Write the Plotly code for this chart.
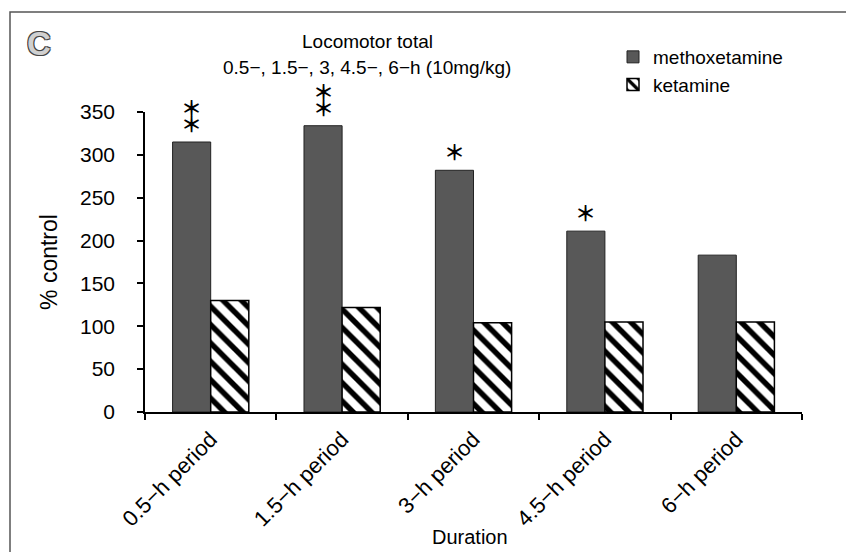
import plotly.graph_objects as go

categories = ["0.5−h period", "1.5−h period", "3−h period", "4.5−h period", "6−h period"]
methoxetamine = [315, 334, 282, 211, 183]
ketamine = [130, 122, 104, 105, 105]
significance = ["**", "**", "*", "*", ""]

JP = "Noto Sans CJK JP"
AR = "Liberation Sans, Arial"

fig = go.Figure()
fig.add_trace(go.Bar(
    x=categories, y=methoxetamine, name="methoxetamine",
    marker=dict(color="#585858", line=dict(color="#222", width=1)),
))
fig.add_trace(go.Bar(
    x=categories, y=ketamine, name="ketamine",
    marker=dict(color="white", line=dict(color="black", width=1.5),
                pattern=dict(shape="\\", fgcolor="#000000", bgcolor="white", fgopacity=1,
                             size=13, solidity=0.42)),
))

annotations = []
for cat, val, sig in zip(categories, methoxetamine, significance):
    for i in range(len(sig)):
        annotations.append(dict(
            x=cat, y=val, xref="x", yref="y", text="＊", showarrow=False,
            xshift=-19, yshift=19 + 16 * i, yanchor="middle", xanchor="center",
            font=dict(family=JP, size=21, color="black", weight="bold")))

W, H = 846, 552
L, R, T, B = 145, 44, 112, 140
pw, ph = W - L - R, H - T - B


def px(x, y):
    return (x - L) / pw, (H - B - y) / ph


for xx, yy, txt, fnt in [
    (367, 41, "Locomotor total", dict(family=AR, size=19, color="black")),
    (367, 68, "0.5−, 1.5−, 3, 4.5−, 6−h (10mg/kg)", dict(family=AR, size=19, color="black")),
    (39, 43, "C", dict(family=AR, size=33, color="#d0d0d0", weight="bold",
                       shadow="1px 1px 0 #444, -1px -1px 0 #444, 1px -1px 0 #444, -1px 1px 0 #444")),
    (470, 537, "Duration", dict(family=AR, size=20, color="black")),
]:
    ax, ay = px(xx, yy)
    annotations.append(dict(x=ax, y=ay, xref="paper", yref="paper", text=txt, showarrow=False,
                            xanchor="center", yanchor="middle", font=fnt))

lx, ly = px(613, 38)
bx0, by0 = px(10, 12)
bx1, by1 = px(900, 600)

fig.update_layout(
    width=W, height=H,
    margin=dict(l=L, r=R, t=T, b=B, autoexpand=False),
    paper_bgcolor="white", plot_bgcolor="white",
    barmode="group", bargap=0.42, bargroupgap=0,
    showlegend=True,
    legend=dict(x=lx, y=ly, xanchor="left", yanchor="top",
                font=dict(family=AR, size=19, color="black"),
                itemwidth=30, bgcolor="rgba(0,0,0,0)", tracegroupgap=0),
    annotations=annotations,
    shapes=[dict(type="rect", xref="paper", yref="paper",
                 x0=bx0, x1=bx1, y0=by1, y1=by0,
                 line=dict(color="#555", width=1.5), fillcolor="rgba(0,0,0,0)", layer="below")],
    xaxis=dict(showline=True, linecolor="black", linewidth=1.5, ticks="outside",
               tickson="boundaries", ticklen=6, tickcolor="black", tickwidth=1.5,
               tickangle=-45, tickfont=dict(family=AR, size=22, color="black"),
               ticklabelstandoff=4, showgrid=False),
    yaxis=dict(range=[0, 350], dtick=50, showline=True, linecolor="black", linewidth=1.5,
               ticks="outside", ticklen=6, tickcolor="black", tickwidth=1.5,
               tickfont=dict(family=AR, size=21, color="black"), ticklabelstandoff=18,
               title=dict(text="% control", font=dict(family=AR, size=23, color="black"), standoff=16),
               showgrid=False, zeroline=False),
)

fig.write_html("out.html", config={"displayModeBar": False},
               post_script="document.body.style.margin='0';")
